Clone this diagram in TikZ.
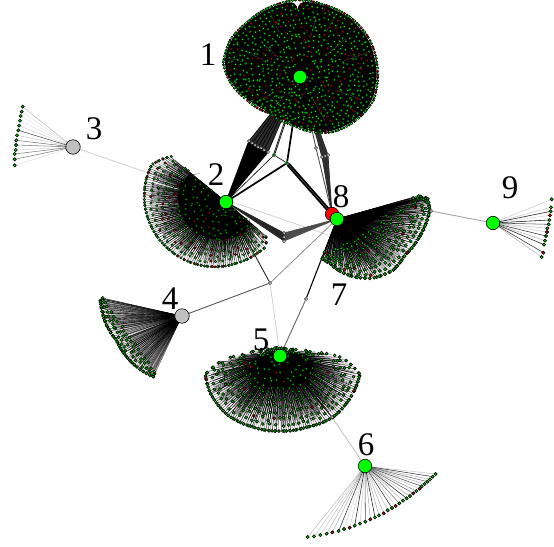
\documentclass[tikz,border=0pt]{standalone}
\usepackage{fontspec}
\setmainfont{Liberation Serif}
\pgfdeclarelayer{conn}\pgfdeclarelayer{fan}\pgfsetlayers{conn,fan,main}
\definecolor{lg}{RGB}{0,200,0}
\definecolor{lr}{RGB}{210,0,0}
\definecolor{hubg}{RGB}{0,255,0}
\definecolor{hubs}{RGB}{192,192,192}
\tikzset{
 hub/.style={circle,draw=black,line width=.6pt,fill=hubg,minimum size=13.5pt,inner sep=0pt},
 greyhub/.style={hub,fill=hubs,minimum size=14.5pt},
 redhub/.style={hub,fill=red},
 tiny/.style={circle,draw=black,line width=.5pt,fill=white,minimum size=3.2pt,inner sep=0pt},
 tinyg/.style={tiny,fill=lg},
 lab/.style={inner sep=0pt,font=\fontsize{33}{33}\selectfont},
 thin edge/.style={line width=.6pt,draw=black},
 double edge/.style={line width=.6pt,draw=black,double=gray,double distance=.6pt},
}
\newif\iffanlines
\def\NoMark{X}
\def\fanRings{10}\def\fanSpace{6}\def\fanGamma{1}\def\fanRed{.1}\def\fanDot{1.3}\def\fanOut{.45}\def\fanWide{.4}\def\fanG{lg}\def\fanSeed{5}
\newcommand\FanPass[3]{%
 \pgfmathsetseed{\fanSeed}%
 \foreach \fA/\fO/\fI [remember=\fA as \pA (initially X),remember=\fO as \pO (initially 0),remember=\fI as \pI (initially 0)] in #3{%
  \ifx\pA\NoMark\else
  \foreach \k in {1,...,\fanRings}{%
   \pgfmathsetmacro\fT{(\k/\fanRings)^\fanGamma}%
   \pgfmathsetmacro\fRm{(\pI+\fI)/2+\fT*((\pO+\fO-\pI-\fI)/2)}%
   \pgfmathtruncatemacro\fN{floor((\fA-\pA)*0.01745*\fRm/\fanSpace+rnd)}%
   \pgfmathsetmacro\fOff{rnd-0.5}%
   \ifnum\fN>0
   \foreach \j in {1,...,\fN}{%
    \pgfmathsetmacro\fU{(\j-0.5+\fOff)/\fN}%
    \pgfmathsetmacro\fAng{\pA+(\fA-\pA)*\fU}%
    \pgfmathsetmacro\fIn{\pI+(\fI-\pI)*\fU}%
    \pgfmathsetmacro\fOutR{\pO+(\fO-\pO)*\fU}%
    \pgfmathsetmacro\fR{\fIn+\fT*(\fOutR-\fIn)+(rnd-0.5)*min(4,(1-\fT)*30)}%
    \pgfmathsetmacro\fX{#1+\fR*cos(\fAng)}%
    \pgfmathsetmacro\fY{#2+\fR*sin(\fAng)}%
    \pgfmathsetmacro\fP{rnd}%
    \iffanlines
     \pgfmathsetmacro\fOp{round(\fP*4)/4*0.7+0.3}%
     \draw[line width=\fanWide pt,black,opacity=\fOp] (#1,#2) -- (\fX,\fY);%
    \else
     \pgfmathtruncatemacro\fIsRed{\fP<\fanRed}%
     \ifnum\fIsRed=1
      \filldraw[fill=lr,draw=black,line width=\fanOut pt] (\fX,\fY) circle (\fanDot pt);%
     \else
      \filldraw[fill=\fanG,draw=black,line width=\fanOut pt] (\fX,\fY) circle (\fanDot pt);%
     \fi
    \fi
   }%
   \fi
  }%
  \fi
 }%
}
% lines at a closer spacing, then a rim of dots, then the inner dots
\newcommand\RadialFan[5]{%
 \begingroup\fanlinestrue\def\fanSpace{#4}\FanPass{#1}{#2}{#3}\endgroup
 \begingroup\def\fanRings{1}\def\fanSpace{#5}\def\fanG{lg!75!black}\fanlinesfalse\FanPass{#1}{#2}{#3}\endgroup
 \fanlinesfalse\FanPass{#1}{#2}{#3}}
\newcommand\FanCore[4]{%
 \fill[black,rounded corners=10pt] (#1,#2) \foreach \fA/\fO/\fI in #3{%
   -- ([shift={(#1,#2)}]\fA:{#4*\fO})} -- cycle;}
\newcommand\LeafFan[4]{%
 \foreach \zx/\zy/\lo/\lc in {#4}{%
  \pgfmathsetmacro\lX{#2+\zx/3}\pgfmathsetmacro\lY{#3+\zy/3}%
  \draw[black,line width=.55pt,opacity=\lo] (#1.center) -- (\lX,\lY);}%
 \foreach \zx/\zy/\lo/\lc in {#4}{%
  \pgfmathsetmacro\lX{#2+\zx/3}\pgfmathsetmacro\lY{#3+\zy/3}%
  \filldraw[fill=\lc,draw=black,line width=.6pt] (\lX,\lY) circle (1.6pt);}%
}
\begin{document}
\begin{tikzpicture}[x=1pt,y=-1pt]
\useasboundingbox (0,0) rectangle (554,546);
% hubs
\node[hub] (h1) at (300,77) {};
\node[hub] (h2) at (226,202) {};
\node[greyhub] (h3) at (73,147) {};
\node[greyhub] (h4) at (182,316) {};
\node[hub] (h5) at (280,356) {};
\node[hub] (h6) at (365,466) {};
\node[redhub] (h8) at (332,214) {};
\node[hub] (h7) at (337,219) {};
\node[hub] (h9) at (493,223) {};
% small nodes
\node[tiny] (sa) at (270,283) {};
\node[tiny] (sb) at (306,299) {};
\node[tinyg] (sc) at (274,155) {};
\node[tinyg] (sd) at (287,163) {};
\node[tiny] (se) at (431,211) {};
\node[tiny] (sf) at (332,417) {};
\node[tiny] (sg) at (316,148) {};
\foreach \i/\x/\y in {1/249/141,2/252/143,3/255/145,4/258/147,5/261/148,6/264/150,7/268/152}{\node[tiny] (w\i) at (\x,\y) {};}
\foreach \i/\x/\y in {1/322/157,2/325/156,3/328/155}{\node[tiny] (x\i) at (\x,\y) {};}
\foreach \i/\x in {1/284,2/284,3/284}{\pgfmathsetmacro\yy{229+4*\i}\node[tiny] (y\i) at (\x,\yy) {};}
\coordinate (j8) at (328,235);
% labels
\node[lab] (l1) at (208,55) {1};
\node[lab] (l2) at (216,175) {2};
\node[lab] (l3) at (94,129) {3};
\node[lab] (l4) at (170,299) {4};
\node[lab] (l5) at (261,340) {5};
\node[lab] (l6) at (366,445) {6};
\node[lab] (l7) at (339,295) {7};
\node[lab] (l8) at (341,197) {8};
\node[lab] (l9) at (510,188) {9};
\begin{pgfonlayer}{conn}
 \fill[white] (0,0) rectangle (554,546);
 \draw[black!18,line width=.8pt] (h3) -- (j8);
 \draw[black!45,line width=.8pt] (sa) -- (h7.center);
 \draw[black!65,line width=.9pt] (sa) -- (h4);
 \draw[black!18,line width=.8pt] (sa) -- (h5);
 \draw[black!85,line width=.9pt] (sa) -- (h2);
 \draw[black!60,line width=.9pt] (sb) -- (h5);
 \draw[black,line width=1.1pt] (sb) -- (h7.center);
 \draw[black!35,line width=.9pt] (se) -- (h9);
 \draw[black,line width=.8pt] (se) -- (h7.center);
 \draw[black!22,line width=.9pt] (sf) -- (h6);
 \draw[black,line width=.8pt] (sf) -- (h5);
 \draw[double edge] (sc) -- (h1);
 \draw[thin edge] (sc) -- (h2.center);
 \draw[thin edge] (sc) -- (sd);
 \draw[black,line width=1.7pt] (sd) -- (h1);
 \draw[black,line width=1.7pt] (sd) -- (h2.center);
 \draw[black,line width=1.8pt,double=gray,double distance=.3pt] (sd) -- (h8.center);
 % cone to hub 1
 \fill[black!82] (h1.center) -- (w1.center) -- (w7.center) -- cycle;
 \fill[black] (h2.center) -- (w1.center) -- (w7.center) -- cycle;
 \foreach \i in {1,...,7}{\draw[black,line width=.7pt] (w\i) -- (h1); \draw[black,line width=1.2pt] (w\i) -- (h2.center);}
 % bundle to hub 8
 \fill[black!80] (h1.center) -- (x1.center) -- (x3.center) -- cycle;
 \fill[black!80] (h8.center) -- (x1.center) -- (x3.center) -- cycle;
 \foreach \i in {1,2,3}{\draw[black!85,line width=.8pt] (x\i) -- (h1); \draw[black!85,line width=.7pt] (x\i) -- (h8.center);}
 \draw[black!70,line width=.9pt] (sg) -- (h1);
 \draw[black!70,line width=.9pt] (sg) -- (h8.center);
 % lower bundle
 \fill[black!85] (h2.center) -- (y1.center) -- (y3.center) -- cycle;
 \fill[black!70] (h7.center) -- (y1.center) -- (y3.center) -- cycle;
 \foreach \i in {1,2,3}{\draw[black!85,line width=.7pt] (y\i) -- (h2.center); \draw[black!70,line width=.7pt] (y\i) -- (h7.center);}
\end{pgfonlayer}
\begin{pgfonlayer}{fan}
 % cluster 1
 \def\tabA{268/77/0,289/76/0,310/78/0,332/79/0,355/78/0,377.5/77/0,397/71/0,419/64/0,437/56.5/0,458/48.5/0,490/47/0,517/58/0,536/70/0,550/78/0,568/79/0,586/76/0,607/76/0,628/77/0}
 \FanCore{300}{77}{\tabA}{1}
 \foreach \sa/\sr/\se in {205/40/62,195/55/72,150/30/48,320/35/60,340/45/72,20/40/65,32/52/68,60/25/50,245/50/70,130/25/38,300/52/72,285/40/62,165/48/62,222/30/50}{
   \draw[black!70,line width=.4pt] ([shift={(300,77)}]\sa:\sr) -- ([shift={(300,77)}]\sa:\se);}
 \def\fanRings{1}\def\fanSpace{3}\def\fanGamma{.9}\def\fanRed{.14}\def\fanDot{1.1}\def\fanOut{.5}\def\fanG{lg!70!black}\def\fanSeed{11}
 \fanlinesfalse\FanPass{300}{77}{\tabA}
 \def\fanRings{15}\def\fanSpace{5}\def\fanRed{.16}\def\fanDot{1.15}\def\fanOut{.2}\def\fanG{hubg}
 \FanPass{300}{77}{\tabA}
 % cluster 2
 \def\tabB{40/52/0,48/60/0,59/60/0,80/62/0,101/66/0,130/72/0,153/77/0,175/81/0,195/83/0,207/83/0,217/74/0,220/71/0}
 \FanCore{226}{202}{\tabB}{.6}
 \def\fanRings{11}\def\fanSpace{5.6}\def\fanGamma{.85}\def\fanRed{.16}\def\fanDot{1.25}\def\fanOut{.4}\def\fanG{lg}\def\fanWide{.55}\def\fanSeed{23}
 \RadialFan{226}{202}{\tabB}{2.1}{3.4}
 % cluster 5
 \def\tabE{-90/7/0,-35/10/0,-15/22/0,-6/37/0,2/63/0,13/82/0,27/82/0,49/81/0,69/76/0,90/75/0,111/76/0,132/79/0,152/79/0,166/77/0,176/57/0,183.5/33/0,195/22/0,215/11/0,270/7/0}
 \FanCore{280}{356}{\tabE}{.45}
 \def\fanRings{11}\def\fanSpace{5.6}\def\fanGamma{.85}\def\fanRed{.04}\def\fanDot{1.5}\def\fanOut{.55}\def\fanG{lg}\def\fanWide{.5}\def\fanSeed{31}
 \RadialFan{280}{356}{\tabE}{2.2}{3.6}
 % cluster 7
 \fill[black] (337,219) -- (425,196) -- (398,206) -- (372,221) -- (352,232) -- cycle;
 \def\tabG{-16/84/70,-13/93/84,-5/93/45,11/85/30,28/77/22,42/76/20,59/69/20,77/58/22,99/45/28,111/42/35}
 \def\fanRings{9}\def\fanSpace{5.5}\def\fanGamma{.9}\def\fanRed{.05}\def\fanDot{1.6}\def\fanWide{.45}\def\fanSeed{47}
 \RadialFan{337}{219}{\tabG}{2.2}{3.6}
 % cluster 4
 \def\tabD{115/67/62,131/68/52,147/69/50,160/70/52,173/76/59,193/84/80}
 \def\fanRings{4}\def\fanSpace{4.6}\def\fanGamma{1}\def\fanRed{.02}\def\fanDot{1.5}\def\fanWide{.4}\def\fanSeed{59}
 \RadialFan{182}{316}{\tabD}{2}{3.4}
 % leaf fans
 \LeafFan{h3}{0}{90}{68/50/.25/lg,65/65/.1/lg,62/78/.08/lg,60/92/.1/lg,57/107/.15/lg,55/121/.7/lg,51/136/.2/lg,49/151/.55/lg,48/165/.5/lg,47/180/.15/lg,44/192/.5/lg,44/208/.5/lg,44/226/.12/lg}
 \LeafFan{h9}{310}{170}{725/88/.2/lg,723/112/.2/lg,722/124/.9/lg,720/136/.15/lr,718/150/.95/lg,716/163/.7/lg,712/175/.25/lg,711/186/.2/lr,708/198/.8/lg,705/212/.3/lg,702/224/.9/lg,700/248/.8/lr,695/261/.3/lg}
 \LeafFan{h6}{290}{410}{437/192/.2/lg,428/200/.8/lg,420/208/.3/lg,412/215/.6/lg,404/222/.3/lg,395/229/.7/lg,389/236/.2/lr,379/243/.4/lg,370/250/.6/lr,360/258/.3/lg,350/265/.85/lg,339/272/.3/lg,328/280/.5/lg,317/288/.2/lr,306/294/.8/lg,293/301/.25/lg,281/310/.3/lr,267/316/.3/lg,255/322/.9/lg,241/328/.3/lr,226/335/.7/lg,210/341/.2/lg,194/347/.9/lg,179/353/.2/lr,162/357/.15/lg,146/363/.8/lg,127/367/.3/lr,110/371/.3/lg,91/375/.2/lg,72/379/.2/lg,53/381/.25/lg}
\end{pgfonlayer}
\end{tikzpicture}
\end{document}
